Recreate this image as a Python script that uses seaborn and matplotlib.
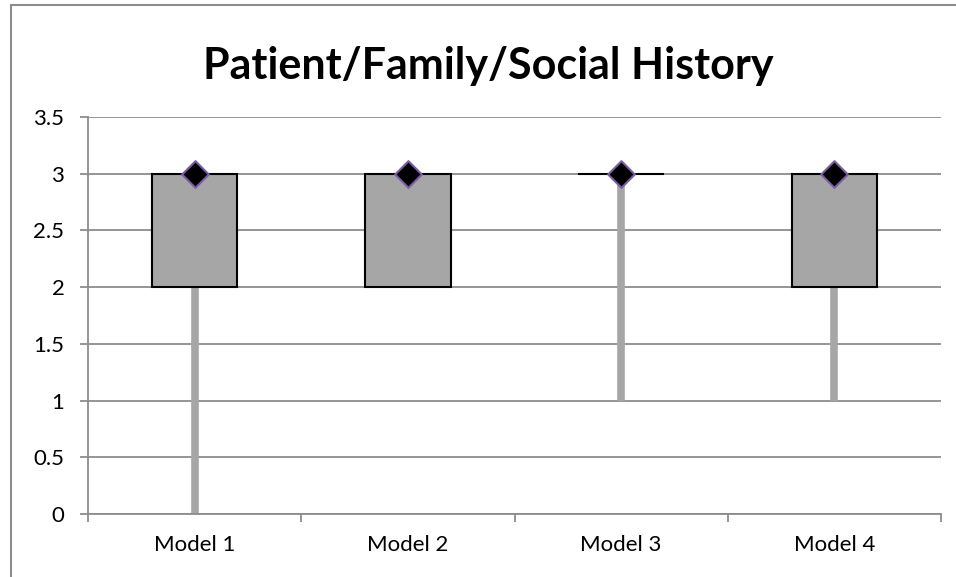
# Box plot of patient/family/social history scores per model
# (Excel-style: stacked box, thick whisker, diamond median)

import numpy as np
import pandas as pd
import matplotlib
matplotlib.use('Agg')
import matplotlib.pyplot as plt
from matplotlib.lines import Line2D
import seaborn as sns

# Data
models = ['Model 1', 'Model 2', 'Model 3', 'Model 4']
whisker_min = [0, 2, 1, 1]
q1 = [2, 2, 3, 2]
q3 = [3, 3, 3, 3]
median = [3, 3, 3, 3]
y_ticks = [0, 0.5, 1, 1.5, 2, 2.5, 3, 3.5]

sns.set_style('white')
plt.rcParams['font.family'] = ['Lato', 'DejaVu Sans']
plt.rcParams['text.color'] = 'black'
plt.rcParams['xtick.labelcolor'] = 'black'
plt.rcParams['ytick.labelcolor'] = 'black'

box = pd.DataFrame({'model': models, 'height': np.array(q3) - np.array(q1),
                    'bottom': q1, 'median': median})

fig = plt.figure(figsize=(9.56, 5.77), dpi=100)
ax = fig.add_axes([88 / 956, 1 - 514 / 577, (941 - 88) / 956, (514 - 117) / 577])

grid_col = '#8c8c8c'
box_col = '#a6a6a6'

# boxes (Q1 -> Q3)
sns.barplot(data=box, x='model', y='height', bottom=box['bottom'], width=0.4,
            color=box_col, edgecolor='black', linewidth=1.5, saturation=1,
            errorbar=None, zorder=2, ax=ax)

# whiskers (min -> Q1)
pos = np.arange(len(models))
ax.vlines(pos, whisker_min, q1, color=box_col, linewidth=5.5, zorder=1.5)

# medians
sns.scatterplot(data=box, x='model', y='median', marker='D', s=185,
                color='black', edgecolor='#7b5ea7', linewidth=1.5,
                zorder=3, ax=ax, legend=False)

ax.set_ylim(0, 3.5)
ax.set_xlim(-0.5, len(models) - 0.5)
ax.set_yticks(y_ticks)
ax.set_yticklabels([f'{v:g}' for v in y_ticks])
ax.set_xticks(pos)
ax.set_xticklabels(models)
ax.set_xticks(np.arange(-0.5, len(models)), minor=True)
ax.set_xlabel('')
ax.set_ylabel('')

ax.yaxis.grid(True, color=grid_col, linewidth=1.3)
ax.set_axisbelow(True)
for s in ['top', 'right']:
    ax.spines[s].set_visible(False)
for s in ['left', 'bottom']:
    ax.spines[s].set_color(grid_col)
    ax.spines[s].set_linewidth(1.3)

ax.tick_params(axis='y', length=6, width=1.3, color=grid_col, pad=11,
               labelsize=16, left=True)
ax.tick_params(axis='x', which='major', length=0, pad=15, labelsize=16)
ax.tick_params(axis='x', which='minor', length=6, width=1.3, color=grid_col,
               bottom=True)

fig.suptitle('Patient/Family/Social History', fontsize=31, fontweight='bold',
             color='black', x=488 / 956, y=1 - 46 / 577, va='top')

# outer chart frame (only left and top edges show)
fig.add_artist(Line2D([11 / 956, 11 / 956], [0, 1 - 5 / 577],
                      color=grid_col, linewidth=1.5, transform=fig.transFigure))
fig.add_artist(Line2D([11 / 956, 1], [1 - 5 / 577, 1 - 5 / 577],
                      color=grid_col, linewidth=1.5, transform=fig.transFigure))

fig.savefig('out.png', dpi=100)
